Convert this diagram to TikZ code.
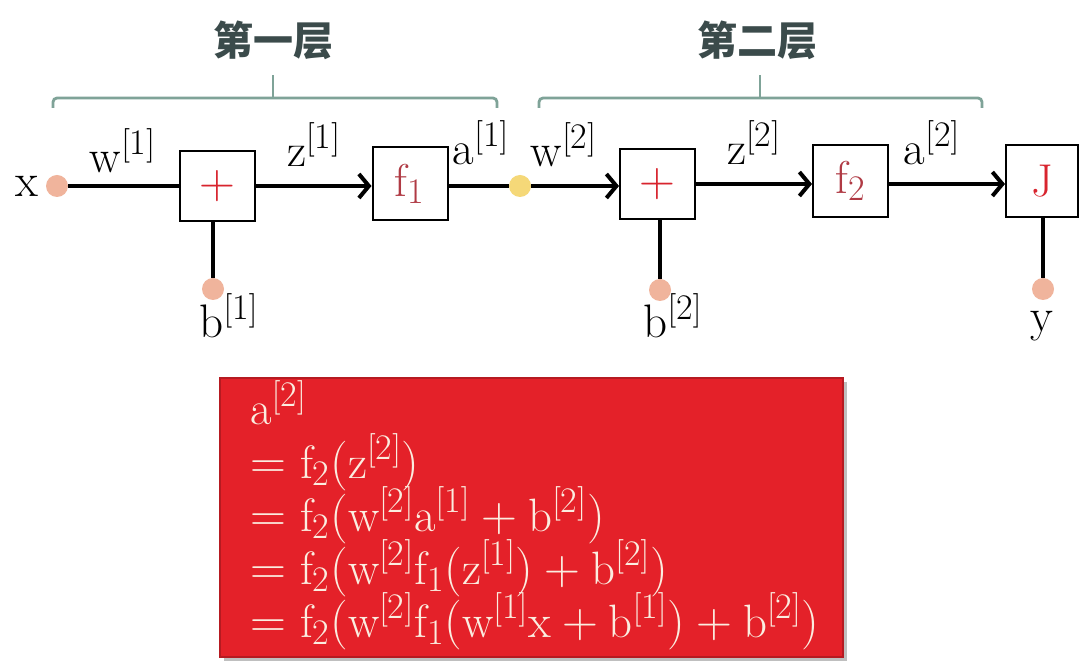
\documentclass[tikz,border=0pt]{standalone}
\usepackage{fontspec}
\newfontfamily\cjk{Noto Sans CJK SC}
\usetikzlibrary{arrows.meta}
\DeclareMathSizes{23.5}{23.5}{18}{13.5}
\DeclareMathSizes{23.4}{23.4}{18}{13.5}
\DeclareMathSizes{23}{23}{18}{13}
\definecolor{dotc}{HTML}{F0B49C}
\definecolor{ydot}{HTML}{F5D878}
\definecolor{brk}{HTML}{7FA398}
\definecolor{ttl}{HTML}{3B4B4B}
\definecolor{opred}{HTML}{D8242E}
\definecolor{fred}{HTML}{B03A44}
\definecolor{boxred}{HTML}{E42129}
\definecolor{txtc}{HTML}{FBEDE0}
\tikzset{
  opbox/.style={draw=black, line width=1pt, fill=white, minimum width=37.5pt, minimum height=35pt, inner sep=0pt, font=\fontsize{23}{27}\selectfont},
  dotn/.style={circle, fill=dotc, minimum size=11pt, inner sep=0pt},
  ydotn/.style={circle, fill=ydot, minimum size=11pt, inner sep=0pt},
  lbl/.style={anchor=base, inner sep=0pt, font=\fontsize{23.5}{27}\selectfont},
  wire/.style={line width=2pt},
  arr/.style={wire, -{Straight Barb[length=5pt,width=12pt]}},
  bracket/.style={draw=brk, line width=1.4pt, rounded corners=2pt},
  title/.style={font=\cjk\fontsize{20}{24}\selectfont\bfseries, text=ttl, inner sep=0pt},
  eqline/.style={anchor=base west, inner sep=0pt, text=txtc, font=\fontsize{23.4}{27}\selectfont},
}
\begin{document}
\begin{tikzpicture}[x=0.5pt,y=-0.5pt]
\useasboundingbox (0,0) rectangle (1080,667);
\fill[white] (0,0) rectangle (1080,667);
% titles and brackets
\node[title] (t1) at (273,40) {第一层};
\node[title] (t2) at (757,40) {第二层};
\draw[bracket] (53,108) -- (53,98) -- (497,98) -- (497,108);
\draw[bracket] (273,98) -- (273,75);
\draw[bracket] (539,108) -- (539,98) -- (982,98) -- (982,108);
\draw[bracket] (760,98) -- (760,75);
% row
\node[dotn] (xd) at (57,186) {};
\node[lbl] (xl) at (27,197) {x};
\node[opbox] (p1) at (217.5,186) {\textcolor{opred}{$+$}};
\node[opbox, minimum height=36.5pt] (f1) at (410,184) {\textcolor{fred}{$\mathrm{f_1}$}};
\node[ydotn] (yd) at (520,186) {};
\node[opbox] (p2) at (657.5,184) {\textcolor{opred}{$+$}};
\node[opbox, minimum height=36pt] (f2) at (850.5,181) {\textcolor{fred}{$\mathrm{f_2}$}};
\node[opbox, minimum width=36pt, minimum height=36pt] (J) at (1042,181) {\textcolor{opred}{J}};
\node[dotn] (b1d) at (213,289) {};
\node[dotn] (b2d) at (660,290) {};
\node[dotn] (yyd) at (1043,289) {};
\node[lbl] (b1l) at (229,338) {$\mathrm{b^{[1]}}$};
\node[lbl] (b2l) at (673,338) {$\mathrm{b^{[2]}}$};
\node[lbl] (yl) at (1042,332) {y};
\node[lbl] (w1l) at (123,173) {$\mathrm{w^{[1]}}$};
\node[lbl] (z1l) at (314,167) {$\mathrm{z^{[1]}}$};
\node[lbl] (a1l) at (481,165) {$\mathrm{a^{[1]}}$};
\node[lbl] (w2l) at (564,167) {$\mathrm{w^{[2]}}$};
\node[lbl] (z2l) at (754,165) {$\mathrm{z^{[2]}}$};
\node[lbl] (a2l) at (932,165) {$\mathrm{a^{[2]}}$};
% wires
\draw[wire] (xd.east) -- (p1.west |- xd);
\draw[arr] (p1.east |- 0,186) -- (f1.west |- 0,186);
\draw[wire] (f1.east |- yd) -- (yd.west);
\draw[arr] (yd.east) -- (p2.west |- yd);
\draw[arr] (p2.east |- 0,184) -- (f2.west |- 0,184);
\draw[arr] (f2.east |- 0,184) -- (J.west |- 0,184);
\draw[wire] (b1d.north) -- (b1d |- p1.south);
\draw[wire] (b2d.north) -- (b2d |- p2.south);
\draw[wire] (yyd.north) -- (yyd |- J.south);
% equation box
\fill[black!25] (224,382) rectangle (847,661);
\node[fill=boxred, draw=boxred!80!black, line width=0.8pt, minimum width=311.5pt, minimum height=139.5pt, inner sep=0pt] (eq) at (531.5,517.5) {};
\node[eqline] (m1) at (250,425) {$\mathrm{a^{[2]}}$};
\node[eqline] (m2) at (250,478) {$\mathrm{=f_2(z^{[2]})}$};
\node[eqline] (m3) at (250,531) {$\mathrm{=f_2(w^{[2]}a^{[1]}+b^{[2]})}$};
\node[eqline] (m4) at (250,584) {$\mathrm{=f_2(w^{[2]}f_1(z^{[1]})+b^{[2]})}$};
\node[eqline] (m5) at (250,637) {$\mathrm{=f_2(w^{[2]}f_1(w^{[1]}x+b^{[1]})+b^{[2]})}$};
\end{tikzpicture}
\end{document}
